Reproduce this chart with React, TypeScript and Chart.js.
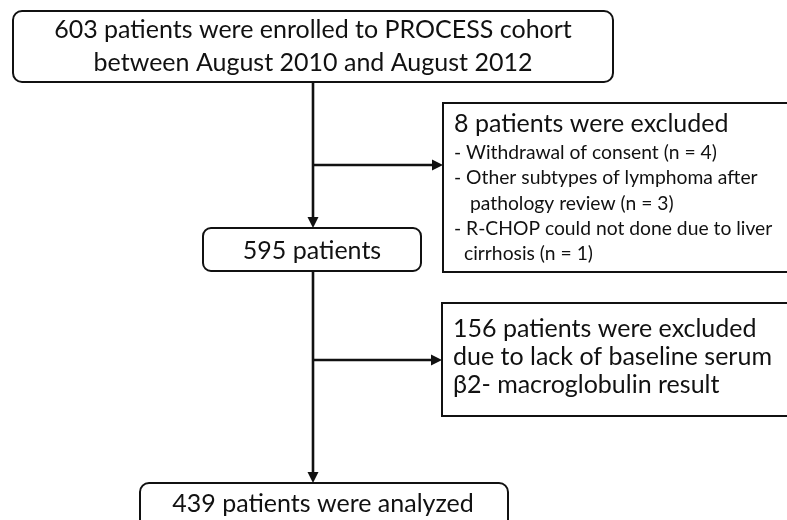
import React, { useEffect, useRef } from "react";
import { Chart, registerables } from "chart.js";

Chart.register(...registerables);

// ---- data ----
const cohortName = "PROCESS";
const enrolledCount = 603;
const enrolledFrom = "August 2010";
const enrolledTo = "August 2012";
const firstExcludedCount = 8;
const exclusionReasons = [
  ["Withdrawal of consent"],
  ["Other subtypes of lymphoma after", "pathology review"],
  ["R-CHOP could not done due to liver", "cirrhosis"],
];
const exclusionCounts = [4, 3, 1];
const remainingCount = 595;
const secondExcludedCount = 156;
const secondExclusionReason = ["due to lack of baseline serum", "\u03b22- macroglobulin result"];
const analyzedCount = 439;

// ---- layout (drawing units = pixels of a 787x520 frame) ----
const W = 787;
const H = 520;
const FONT = "Lato, 'Open Sans', sans-serif";
const INK = "#111";
const BIG = 25;
const SMALL = 19.3;

type Box = { x0: number; x1: number; y0: number; y1: number; r: number };
const boxTop: Box = { x0: 13, x1: 613, y0: 11, y1: 82, r: 9 };
const boxEx1: Box = { x0: 443, x1: 800, y0: 103, y1: 272, r: 0 };
const boxMid: Box = { x0: 203, x1: 421, y0: 228, y1: 271, r: 8 };
const boxEx2: Box = { x0: 442, x1: 800, y0: 303, y1: 416, r: 0 };
const boxEnd: Box = { x0: 140, x1: 508, y0: 483, y1: 545, r: 9 };
const trunkX = 313;
const branch1Y = 165;
const branch2Y = 360;
const ARROW = 11;

const connectors = [
  [{ x: trunkX, y: boxTop.y1 }, { x: trunkX, y: boxMid.y0 - ARROW + 1 }],
  [{ x: trunkX, y: branch1Y }, { x: boxEx1.x0 - ARROW + 1, y: branch1Y }],
  [{ x: trunkX, y: boxMid.y1 }, { x: trunkX, y: boxEnd.y0 - ARROW + 1 }],
  [{ x: trunkX, y: branch2Y }, { x: boxEx2.x0 - ARROW + 1, y: branch2Y }],
];
const arrowTips = [
  { x: trunkX, y: boxMid.y0, dir: "down" },
  { x: boxEx1.x0, y: branch1Y, dir: "right" },
  { x: trunkX, y: boxEnd.y0, dir: "down" },
  { x: boxEx2.x0, y: branch2Y, dir: "right" },
];

type TextItem = { text: string; x: number; y: number; size: number; align: CanvasTextAlign };

function buildTexts(): TextItem[] {
  const t: TextItem[] = [];
  t.push({ text: `${enrolledCount} patients were enrolled to ${cohortName} cohort`, x: 313, y: 38, size: BIG, align: "center" });
  t.push({ text: `between ${enrolledFrom} and ${enrolledTo}`, x: 313, y: 71, size: BIG, align: "center" });
  t.push({ text: `${firstExcludedCount} patients were excluded`, x: 454, y: 132, size: BIG, align: "left" });
  let y = 159;
  exclusionReasons.forEach((lines, i) => {
    lines.forEach((ln, j) => {
      const last = j === lines.length - 1;
      const s = last ? `${ln} (n = ${exclusionCounts[i]})` : ln;
      if (j === 0) t.push({ text: `- ${s}`, x: 454, y, size: SMALL, align: "left" });
      else t.push({ text: s, x: i === 1 ? 470 : 464, y, size: SMALL, align: "left" });
      y += 25.3;
    });
  });
  t.push({ text: `${remainingCount} patients`, x: 312, y: 259, size: BIG, align: "center" });
  t.push({ text: `${secondExcludedCount} patients were excluded`, x: 453, y: 337, size: BIG, align: "left" });
  secondExclusionReason.forEach((ln, i) => {
    t.push({ text: ln, x: 453, y: 365 + i * 28, size: BIG, align: "left" });
  });
  t.push({ text: `${analyzedCount} patients were analyzed`, x: 323, y: 512, size: BIG, align: "center" });
  return t;
}

const flowPlugin = {
  id: "flowchart",
  afterDatasetsDraw(chart: any) {
    const ctx: CanvasRenderingContext2D = chart.ctx;
    const sx = chart.scales.x;
    const sy = chart.scales.y;
    const px = (v: number) => sx.getPixelForValue(v);
    const py = (v: number) => sy.getPixelForValue(v);
    ctx.save();
    ctx.strokeStyle = INK;
    ctx.fillStyle = INK;
    ctx.lineWidth = 2;
    [boxTop, boxEx1, boxMid, boxEx2, boxEnd].forEach((b) => {
      const x0 = px(b.x0), x1 = px(b.x1), y0 = py(b.y0), y1 = py(b.y1);
      ctx.beginPath();
      if (b.r > 0) (ctx as any).roundRect(x0, y0, x1 - x0, y1 - y0, b.r);
      else ctx.rect(x0, y0, x1 - x0, y1 - y0);
      ctx.stroke();
    });
    arrowTips.forEach((a) => {
      const x = px(a.x), y = py(a.y);
      ctx.beginPath();
      if (a.dir === "down") {
        ctx.moveTo(x, y);
        ctx.lineTo(x - 5.5, y - ARROW);
        ctx.lineTo(x + 5.5, y - ARROW);
      } else {
        ctx.moveTo(x, y);
        ctx.lineTo(x - ARROW, y - 5.5);
        ctx.lineTo(x - ARROW, y + 5.5);
      }
      ctx.closePath();
      ctx.fill();
    });
    ctx.textBaseline = "alphabetic";
    buildTexts().forEach((it) => {
      ctx.font = `${it.size}px ${FONT}`;
      ctx.textAlign = it.align;
      ctx.fillText(it.text, px(it.x), py(it.y));
    });
    ctx.restore();
  },
};

export default function App() {
  const ref = useRef<HTMLCanvasElement | null>(null);
  useEffect(() => {
    if (!ref.current) return;
    const chart = new Chart(ref.current, {
      type: "scatter",
      data: {
        datasets: connectors.map((seg) => ({
          data: seg,
          showLine: true,
          borderColor: INK,
          borderWidth: 2.6,
          pointRadius: 0,
          fill: false,
        })),
      },
      options: {
        responsive: false,
        animation: false,
        events: [],
        layout: { padding: 0 },
        scales: {
          x: { type: "linear", min: 0, max: W, display: false },
          y: { type: "linear", min: 0, max: H, reverse: true, display: false },
        },
        plugins: { legend: { display: false }, tooltip: { enabled: false } },
      },
      plugins: [flowPlugin],
    } as any);
    return () => chart.destroy();
  }, []);
  return (
    <div style={{ position: "fixed", left: 0, top: 0, width: W, height: H, background: "#fff" }}>
      <canvas ref={ref} width={W} height={H} style={{ display: "block", width: W, height: H }} />
    </div>
  );
}
